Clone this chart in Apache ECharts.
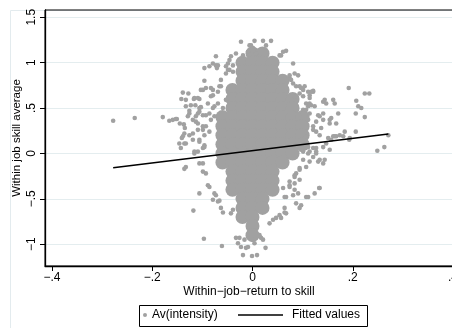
<!DOCTYPE html>
<html>
<head>
<meta charset="utf-8">
<script src="https://cdn.jsdelivr.net/npm/echarts@6/dist/echarts.min.js"></script>
<style>html,body{margin:0;padding:0;background:#fff}#c{width:452px;height:328px}</style>
</head>
<body>
<div id="c"></div>
<script>
const xTicks = [-0.4, -0.2, 0, 0.2, 0.4];
const xTickLabels = ['\u2212.4', '\u2212.2', '0', '.2', '.4'];
const yTicks = [-1, -0.5, 0, 0.5, 1, 1.5];
const yTickLabels = ['\u22121', '\u2212.5', '0', '.5', '1', '1.5'];
const xTitle = 'Within\u2212job\u2212return to skill';
const yTitle = 'Within job skill average';
const scatterName = 'Av(intensity)';
const lineName = 'Fitted values';

// dense centre of the cloud (read as solid grey area)
const coreCloud = [
  [0,1.1],[0.02,1.1],
  [-0.02,1.0],[0,1.0],[0.02,1.0],[0.04,1.0],
  [-0.02,0.9],[0,0.9],[0.02,0.9],[0.04,0.9],
  [-0.02,0.8],[0,0.8],[0.02,0.8],[0.04,0.8],[0.06,0.8],
  [-0.04,0.7],[-0.02,0.7],[0,0.7],[0.02,0.7],[0.04,0.7],[0.06,0.7],
  [-0.04,0.6],[-0.02,0.6],[0,0.6],[0.02,0.6],[0.04,0.6],[0.06,0.6],[0.08,0.6],
  [-0.04,0.5],[-0.02,0.5],[0,0.5],[0.02,0.5],[0.04,0.5],[0.06,0.5],[0.08,0.5],
  [-0.06,0.4],[-0.04,0.4],[-0.02,0.4],[0,0.4],[0.02,0.4],[0.04,0.4],[0.06,0.4],[0.08,0.4],[0.10,0.4],
  [-0.06,0.3],[-0.04,0.3],[-0.02,0.3],[0,0.3],[0.02,0.3],[0.04,0.3],[0.06,0.3],[0.08,0.3],[0.10,0.3],
  [-0.06,0.2],[-0.04,0.2],[-0.02,0.2],[0,0.2],[0.02,0.2],[0.04,0.2],[0.06,0.2],[0.08,0.2],[0.10,0.2],
  [-0.06,0.1],[-0.04,0.1],[-0.02,0.1],[0,0.1],[0.02,0.1],[0.04,0.1],[0.06,0.1],[0.08,0.1],[0.10,0.1],
  [-0.06,0.0],[-0.04,0.0],[-0.02,0.0],[0,0.0],[0.02,0.0],[0.04,0.0],[0.06,0.0],[0.08,0.0],
  [-0.06,-0.1],[-0.04,-0.1],[-0.02,-0.1],[0,-0.1],[0.02,-0.1],[0.04,-0.1],[0.06,-0.1],
  [-0.04,-0.2],[-0.02,-0.2],[0,-0.2],[0.02,-0.2],[0.04,-0.2],
  [-0.04,-0.3],[-0.02,-0.3],[0,-0.3],[0.02,-0.3],[0.04,-0.3],
  [-0.04,-0.4],[-0.02,-0.4],[0,-0.4],[0.02,-0.4],[0.04,-0.4],
  [-0.02,-0.5],[0,-0.5],[0.02,-0.5],
  [-0.02,-0.6],[0,-0.6],[0.02,-0.6],
  [-0.02,-0.7],[0,-0.7],
  [0,-0.8],
  [0,-0.9]
];

// individual observations around the dense centre
const scatterPoints = [
  [-0.278,0.36],[-0.235,0.39],[-0.179,0.40],[-0.166,0.36],[-0.159,0.37],[-0.151,0.38],[-0.145,0.33],
  [-0.139,0.67],[-0.128,0.66],[-0.142,0.60],[-0.133,0.59],[-0.117,0.60],[-0.106,0.60],[-0.096,0.94],
  [-0.096,0.80],[-0.079,0.99],[-0.073,1.07],[-0.071,0.94],[-0.023,1.23],[0.004,1.24],[0.021,1.24],
  [0.037,1.24],[-0.003,1.19],[-0.133,0.52],[-0.126,0.47],[-0.129,0.41],[-0.114,0.53],[-0.103,0.51],
  [-0.109,0.44],[-0.119,0.37],[-0.113,0.35],[-0.137,0.32],[-0.135,0.28],[-0.136,0.22],[-0.141,0.17],
  [-0.136,0.11],[-0.143,0.06],[-0.099,0.30],[-0.109,0.26],[-0.096,0.20],[-0.106,0.13],[-0.096,0.09],
  [-0.093,0.72],[-0.079,0.70],[-0.069,0.68],[-0.083,0.63],[-0.063,0.74],[-0.053,0.96],[-0.046,0.92],
  [-0.039,0.90],[-0.053,0.88],[-0.033,1.10],[-0.019,1.08],[-0.009,1.12],[0.007,1.10],[-0.089,0.55],
  [-0.079,0.50],[-0.069,0.55],[-0.086,0.44],[-0.076,0.41],[-0.126,0.20],[-0.119,0.15],
  [-0.146,0.11],[-0.116,0.00],[-0.106,-0.11],[-0.099,-0.11],[-0.133,-0.15],[-0.136,-0.17],[-0.099,-0.20],
  [-0.093,-0.22],[-0.089,-0.35],[-0.086,-0.37],[-0.106,-0.44],[-0.076,-0.44],[-0.073,-0.46],[-0.079,-0.51],
  [-0.069,-0.53],[-0.118,-0.63],[-0.063,-0.60],[-0.059,-0.65],[-0.039,-0.62],[-0.043,-0.66],[-0.097,-0.94],
  [-0.061,-1.02],[-0.033,-0.93],[-0.026,-0.93],[-0.016,-0.95],[-0.029,-0.99],[0.007,-0.93],[0.004,-0.99],
  [0.021,-0.95],[0.026,-1.04],[-0.023,-1.03],[-0.013,-1.04],[-0.019,-1.12],[-0.001,-1.13],[0.009,-1.12],
  [-0.009,-1.03],[-0.066,-0.52],[0.017,-0.93],[0.014,-0.90],[0.047,-0.71],[0.054,-0.68],[0.064,-0.65],
  [0.034,-0.77],[0.041,-0.73],[0.084,-0.40],[0.091,-0.44],[0.094,-0.60],[0.087,-0.55],[0.064,-0.48],
  [0.107,-0.48],[0.124,-0.44],[0.133,-0.38],[0.084,-0.33],[0.074,-0.37],[0.101,-0.07],[0.114,-0.09],
  [0.131,-0.09],[0.141,-0.11],[0.127,0.00],[0.154,0.04],[0.147,0.11],[0.087,-0.22],[0.094,-0.29],
  [-0.099,0.06],[-0.116,0.02],[-0.133,0.11],
  [-0.073,0.97],[0.001,1.16],[0.027,1.19],[0.061,1.12],[0.067,1.13],[0.057,1.08],[0.081,0.99],
  [0.084,0.88],[0.091,0.86],[0.074,0.83],[0.081,0.77],[0.094,0.74],[0.101,0.70],[0.111,0.68],
  [0.121,0.68],[0.101,0.63],[0.114,0.61],[0.107,0.55],[0.124,0.52],[0.141,0.57],[0.147,0.55],
  [0.161,0.59],[0.164,0.55],[0.087,0.48],[0.101,0.48],[0.114,0.44],[0.134,0.41],[0.141,0.37],
  [0.154,0.37],[0.167,0.33],[-0.116,0.61],[-0.099,0.70],[-0.083,0.72],[-0.066,0.74],[-0.123,0.53],
  [-0.106,0.50],[-0.126,0.44],[-0.113,0.41],[-0.099,0.42],[-0.153,0.38],[-0.093,0.30],[-0.119,0.22],
  [-0.139,0.19],[-0.046,1.03],[-0.039,0.97],[-0.049,0.92],
  [0.054,1.08],[0.074,0.86],[0.077,0.81],[0.067,0.81],[0.087,0.74],[0.097,0.72],[0.094,0.66],
  [0.084,0.63],[0.121,0.69],[0.114,0.64],[0.192,0.72],[0.224,0.66],[0.233,0.66],[0.207,0.58],
  [0.211,0.52],[0.217,0.50],[0.206,0.44],[0.224,0.40],[0.144,0.59],[0.117,0.53],[0.111,0.52],
  [0.107,0.48],[0.131,0.42],[0.141,0.44],[0.157,0.39],[0.154,0.33],[0.171,0.44],[0.121,0.30],
  [0.137,0.28],[0.127,0.24],[0.161,0.19],[0.167,0.19],[0.181,0.19],[0.184,0.24],[0.193,0.15],
  [0.206,0.24],[0.271,0.20],[0.249,0.03],[0.263,0.07],[0.157,0.15],[0.141,0.07],[0.121,0.06],
  [0.134,-0.07],[0.144,-0.07],[0.111,0.00],[0.121,-0.04],[0.107,-0.15],[0.094,-0.18],[0.084,-0.26],
  [0.074,-0.31],[0.134,-0.38],[0.111,-0.48],[0.081,-0.46],[0.067,-0.48],[0.097,-0.57],[0.067,-0.66],
  [0.057,-0.71],[0.064,-0.60],[0.194,0.17],[0.164,0.19],[0.174,0.20],[0.111,0.07],[0.101,0.02],
  [0.127,0.02],
  [0.104,0.74],[0.117,0.68],[0.114,0.55],[0.101,0.44],[0.111,0.37],[0.127,0.35],[0.121,0.26],
  [0.107,0.19],[0.134,0.20],[0.151,0.17],[0.097,0.04],[0.114,0.02],[0.127,0.06],[0.094,-0.16],
  [0.084,-0.24],[0.074,-0.35],[0.061,-0.38],
  [-0.006,1.19],[-0.086,0.96],[-0.069,0.97],[-0.103,0.70],[-0.079,0.64],[-0.109,0.61],[-0.076,0.52],
  [-0.106,0.46],[-0.093,0.42],[-0.083,0.37],[-0.109,0.33],[-0.099,0.26],[-0.086,0.24],[-0.106,0.15],
  [-0.096,0.07],[-0.109,0.02],[-0.059,0.50],[-0.053,0.59],[-0.063,0.81],[-0.049,0.99],[-0.043,1.07]
];

const fittedLine = [[-0.278, -0.157], [0.271, 0.213]];

const FONT = '"Liberation Sans", Arial, sans-serif';
const GREY = '#a1a1a1';
const fmt = (ticks, labels) => (v) => {
  const i = ticks.findIndex(t => Math.abs(t - v) < 1e-9);
  return i >= 0 ? labels[i] : '';
};

const chart = echarts.init(document.getElementById('c'), null, {renderer: 'canvas'});
chart.setOption({
  animation: false,
  backgroundColor: '#ffffff',
  textStyle: {fontFamily: FONT},
  grid: {left: 45, top: 10, width: 408, height: 256, containLabel: false, outerBoundsMode: 'none',
         show: true, borderColor: '#000', borderWidth: 1, backgroundColor: 'transparent'},
  xAxis: {
    type: 'value', min: -0.414, max: 0.4,
    name: xTitle, nameLocation: 'middle', nameGap: 20, nameMoveOverlap: false,
    nameTextStyle: {fontSize: 12, color: '#000', fontFamily: FONT},
    axisLine: {onZero: false, lineStyle: {color: '#000', width: 1.3}},
    axisTick: {show: true, length: 5, customValues: xTicks, lineStyle: {color: '#000'}},
    axisLabel: {customValues: xTicks, formatter: fmt(xTicks, xTickLabels), fontSize: 12, color: '#000', margin: 6,
                fontFamily: FONT, alignMaxLabel: 'center', alignMinLabel: 'center', hideOverlap: false},
    splitLine: {show: false}
  },
  yAxis: {
    type: 'value', min: -1.24, max: 1.58,
    name: yTitle, nameLocation: 'middle', nameGap: 22, nameMoveOverlap: false,
    nameTextStyle: {fontSize: 11.5, color: '#000', fontFamily: FONT},
    axisLine: {onZero: false, lineStyle: {color: '#000', width: 1.3}},
    axisTick: {show: true, length: 5, customValues: yTicks, lineStyle: {color: '#000'}},
    axisLabel: {customValues: yTicks, formatter: fmt(yTicks, yTickLabels), rotate: 90, fontSize: 12, color: '#000', margin: 7, fontFamily: FONT},
    splitLine: {show: true, lineStyle: {color: '#e4edef', width: 1}}
  },
  legend: [
    {data: [scatterName], left: 143, top: 309, padding: 0, itemWidth: 4, itemHeight: 4, icon: 'circle',
     textStyle: {fontSize: 12, color: '#000', fontFamily: FONT}},
    {data: [lineName], left: 238, top: 309, padding: 0, itemWidth: 45, itemHeight: 1.6, icon: 'rect',
     itemStyle: {color: '#000'},
     textStyle: {fontSize: 12, color: '#000', fontFamily: FONT, padding: [0, 0, 0, 4]}}
  ],
  graphic: [
    {type: 'rect', silent: true, z: -10, shape: {x: 10.5, y: 10.5, width: 460, height: 340}, style: {fill: 'none', stroke: '#e3ebee', lineWidth: 1}},
    {type: 'rect', silent: true, shape: {x: 139.5, y: 305.5, width: 228, height: 21}, style: {fill: 'none', stroke: '#000', lineWidth: 1}}
  ],
  series: [
    {name: scatterName, type: 'scatter', data: coreCloud, symbol: 'circle', symbolSize: 14, itemStyle: {color: GREY, opacity: 1}, z: 2},
    {name: scatterName, type: 'scatter', data: scatterPoints, symbol: 'circle', symbolSize: 4.6, itemStyle: {color: GREY, opacity: 1}, z: 2},
    {name: lineName, type: 'line', data: fittedLine, symbol: 'none', showSymbol: false, lineStyle: {color: '#000', width: 1.5}, itemStyle: {color: '#000'}, z: 3}
  ]
});
</script>
</body>
</html>
